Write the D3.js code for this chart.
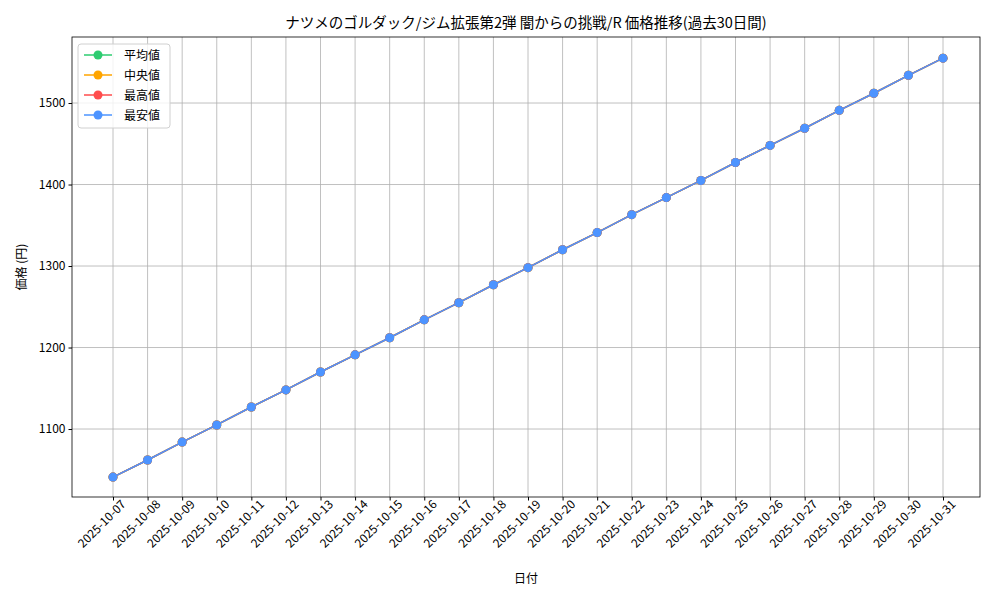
<!DOCTYPE html>
<html><head><meta charset="utf-8">
<script src="https://cdn.jsdelivr.net/npm/d3@7"></script>
<style>body{margin:0;background:#fff}text{font-family:"Noto Sans CJK JP",sans-serif}</style>
</head><body><svg id="c" width="1000" height="600"></svg>
<script>
const dates = ["2025-10-07","2025-10-08","2025-10-09","2025-10-10","2025-10-11","2025-10-12","2025-10-13","2025-10-14","2025-10-15","2025-10-16","2025-10-17","2025-10-18","2025-10-19","2025-10-20","2025-10-21","2025-10-22","2025-10-23","2025-10-24","2025-10-25","2025-10-26","2025-10-27","2025-10-28","2025-10-29","2025-10-30","2025-10-31"];
const avgValues = [1041,1062,1084,1105,1127,1148,1170,1191,1212,1234,1255,1277,1298,1320,1341,1363,1384,1405,1427,1448,1469,1491,1512,1534,1555];
const medValues = avgValues.slice();
const maxValues = avgValues.slice();
const minValues = avgValues.slice();
const yTicks = [1100,1200,1300,1400,1500];
const series = [
  {name:"平均値", color:"#2ecc71", values:avgValues},
  {name:"中央値", color:"#ffa500", values:medValues},
  {name:"最高値", color:"#ff4d4d", values:maxValues},
  {name:"最安値", color:"#4d94ff", values:minValues}
];

const svg = d3.select("#c");
const L = 72, R = 980, T = 37, B = 497;
const x = d3.scalePoint().domain(dates).range([113, 943]);
const y = d3.scaleLinear().domain([1016.6, 1581]).range([B, T]);

// grid
svg.append("g").selectAll("line").data(dates).join("line")
  .attr("x1", d => x(d)).attr("x2", d => x(d)).attr("y1", T).attr("y2", B)
  .attr("stroke", "#b0b0b0").attr("stroke-width", 0.8);
svg.append("g").selectAll("line").data(yTicks).join("line")
  .attr("x1", L).attr("x2", R).attr("y1", d => y(d)).attr("y2", d => y(d))
  .attr("stroke", "#b0b0b0").attr("stroke-width", 0.8);

// axes
const xa = svg.append("g").attr("transform", `translate(0,${B})`)
  .call(d3.axisBottom(x).tickSize(3.5).tickSizeOuter(0));
xa.selectAll("text").attr("font-size", 12).attr("fill", "#000")
  .attr("text-anchor", "end").attr("dx", "0.3em").attr("dy", "0.7em")
  .attr("transform", "rotate(-45)");
xa.select(".domain").remove();
const ya = svg.append("g").attr("transform", `translate(${L},0)`)
  .call(d3.axisLeft(y).tickValues(yTicks).tickFormat(d3.format("d")).tickSize(3.5).tickSizeOuter(0));
ya.selectAll("text").attr("font-size", 12).attr("fill", "#000");
ya.select(".domain").remove();
svg.append("rect").attr("x", L).attr("y", T).attr("width", R - L).attr("height", B - T)
  .attr("fill", "none").attr("stroke", "#000").attr("stroke-width", 0.8);

// lines
const line = d3.line().x((d, i) => x(dates[i])).y(d => y(d));
series.forEach(s => {
  const g = svg.append("g");
  g.append("path").datum(s.values).attr("d", line).attr("fill", "none")
    .attr("stroke", s.color).attr("stroke-width", 1.5);
  g.selectAll("circle").data(s.values).join("circle")
    .attr("cx", (d, i) => x(dates[i])).attr("cy", d => y(d)).attr("r", 4.5).attr("fill", s.color);
});

// titles
svg.append("text").attr("x", (L + R) / 2).attr("y", 28).attr("text-anchor", "middle")
  .attr("font-size", 14.5).text("ナツメのゴルダック/ジム拡張第2弾 闇からの挑戦/R 価格推移(過去30日間)");
svg.append("text").attr("x", (L + R) / 2).attr("y", 583).attr("text-anchor", "middle")
  .attr("font-size", 12).text("日付");
svg.append("text").attr("transform", `translate(26,${(T + B) / 2}) rotate(-90)`)
  .attr("text-anchor", "middle").attr("font-size", 12).text("価格 (円)");

// legend
const lg = svg.append("g").attr("transform", "translate(78,44)");
lg.append("rect").attr("width", 92).attr("height", 84).attr("rx", 3)
  .attr("fill", "#fff").attr("fill-opacity", 0.8).attr("stroke", "#d0d0d0");
series.forEach((s, i) => {
  const yy = 11 + i * 20;
  lg.append("line").attr("x1", 6).attr("x2", 34).attr("y1", yy).attr("y2", yy)
    .attr("stroke", s.color).attr("stroke-width", 1.5);
  lg.append("circle").attr("cx", 20).attr("cy", yy).attr("r", 4.5).attr("fill", s.color);
  lg.append("text").attr("x", 46).attr("y", yy + 4.5).attr("font-size", 12).text(s.name);
});
</script></body></html>
